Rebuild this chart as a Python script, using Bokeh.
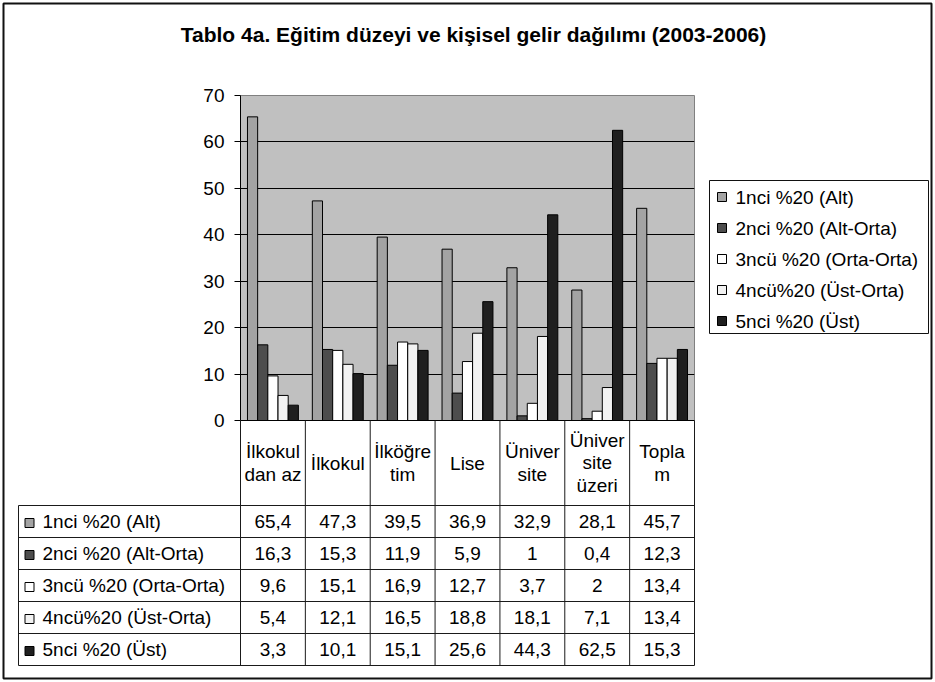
from bokeh.plotting import figure
from bokeh.models import Range1d, FixedTicker, ColumnDataSource
from bokeh.transform import dodge
from bokeh.core.properties import value
from bokeh.embed import file_html
from bokeh.resources import INLINE

# ---------------- data ----------------
title_text = "Tablo 4a. Eğitim düzeyi ve kişisel gelir dağılımı (2003-2006)"
categories = ["İlkokuldan az", "İlkokul", "İlköğretim", "Lise", "Üniversite", "Üniversite üzeri", "Toplam"]
header_labels = ["İlkokul\ndan az", "İlkokul", "İlköğre\ntim", "Lise", "Üniver\nsite", "Üniver\nsite\nüzeri", "Topla\nm"]
series_names = ["1nci %20 (Alt)", "2nci %20 (Alt-Orta)", "3ncü %20 (Orta-Orta)", "4ncü%20 (Üst-Orta)", "5nci %20 (Üst)"]
s1 = [65.4, 47.3, 39.5, 36.9, 32.9, 28.1, 45.7]
s2 = [16.3, 15.3, 11.9, 5.9, 1, 0.4, 12.3]
s3 = [9.6, 15.1, 16.9, 12.7, 3.7, 2, 13.4]
s4 = [5.4, 12.1, 16.5, 18.8, 18.1, 7.1, 13.4]
s5 = [3.3, 10.1, 15.1, 25.6, 44.3, 62.5, 15.3]
y_ticks = [0, 10, 20, 30, 40, 50, 60, 70]

series = [s1, s2, s3, s4, s5]
series_colors = ["#a3a3a3", "#4d4d4d", "#ffffff", "#f2f2f2", "#1f1f1f"]

# ---------------- layout (canvas px) ----------------
FONT = "Liberation Sans"
FS = "19px"
W, H = 935, 682
FL, FR, FT, FB = 240, 694, 95, 420
TL = 18            # table left
ROW0 = 505         # first data row top
RH = 32            # row height
n = len(categories)
cw = (FR - FL) / n

p = figure(width=W, height=H,
           x_range=Range1d(0, n),
           y_range=Range1d(0, 70),
           output_backend="svg", toolbar_location=None,
           min_border_left=FL, min_border_right=W - FR,
           min_border_top=FT, min_border_bottom=H - FB)
p.extra_x_ranges = {"px": Range1d(FL, FR)}
p.extra_y_ranges = {"px": Range1d(FB, FT)}

p.background_fill_color = "#c0c0c0"
p.border_fill_color = "white"
p.outline_line_color = "#808080"
p.outline_line_width = 1

p.xaxis.visible = False
p.xgrid.visible = False
p.ygrid.ticker = FixedTicker(ticks=y_ticks[1:-1])
p.ygrid.grid_line_color = "#000000"
p.ygrid.grid_line_width = 1

ya = p.yaxis[0]
ya.ticker = FixedTicker(ticks=y_ticks)
ya.axis_line_color = "black"
ya.major_tick_line_color = "black"
ya.major_tick_out = 6
ya.major_tick_in = 0
ya.minor_tick_line_color = None
ya.major_label_text_font = FONT
ya.major_label_text_font_size = FS
ya.major_label_text_color = "black"
ya.major_label_standoff = 10

# ---------------- bars ----------------
pos = [k + 0.5 for k in range(n)]   # category centres on the linear x scale
src = ColumnDataSource(dict(cat=categories, pos=pos, s1=s1, s2=s2, s3=s3, s4=s4, s5=s5))
bw = 0.157
for i, key in enumerate(["s1", "s2", "s3", "s4", "s5"]):
    p.vbar(x=dodge("pos", (i - 2) * bw), top=key, width=bw,
           source=src, fill_color=series_colors[i], line_color="black", line_width=1)

# ---------------- table, legend & decorations (overlay, canvas px coords) ----------------
kw = dict(x_range_name="px", y_range_name="px", level="overlay")
LC = "#1a1a1a"
txt = dict(text_font=value(FONT), text_font_size=value(FS), text_color="black", **kw)
nrows = len(series)

# outer frame
p.quad(left=[3], right=[931], top=[3], bottom=[678],
       fill_color=None, line_color="#111111", line_width=2, **kw)

# legend
LGL, LGR, LGT, LGB = 709, 928, 180, 333
p.quad(left=[LGL], right=[LGR], top=[LGT], bottom=[LGB], fill_color="white",
       line_color="#111111", line_width=1, **kw)
lcy = [196.5 + 31 * i for i in range(nrows)]
p.rect(x=[721.5] * nrows, y=lcy, width=9, height=9, fill_color=series_colors,
       line_color="black", line_width=1, **kw)
p.text(x=[735] * nrows, y=lcy, text=series_names, text_align="left", text_baseline="middle", **txt)

# table lines
hx0, hx1, hy = [], [], []
for i in range(nrows + 1):
    hx0.append(TL); hx1.append(FR); hy.append(ROW0 + i * RH)
p.segment(x0=hx0, y0=hy, x1=hx1, y1=hy, line_color=LC, line_width=1, **kw)
p.segment(x0=[FL], y0=[FB], x1=[FR], y1=[FB], line_color="black", line_width=1, **kw)
vx = [TL] + [FL + k * cw for k in range(n + 1)]
vy0 = [ROW0] + [FB] * (n + 1)
vy1 = [ROW0 + nrows * RH] * (n + 2)
p.segment(x0=vx, y0=vy0, x1=vx, y1=vy1, line_color=LC, line_width=1, **kw)

# title
p.text(x=[473], y=[34], text=[title_text], text_align="center", text_baseline="middle",
       text_font_style="bold", text_font=value(FONT), text_font_size=value("21px"),
       text_color="black", **kw)

# header labels
cx = [FL + (k + 0.5) * cw for k in range(n)]
p.text(x=cx, y=[(FB + ROW0) / 2] * n, text=header_labels, text_align="center",
       text_baseline="middle", text_line_height=1.05, **txt)

# row labels with key squares
rcy = [ROW0 + (i + 0.5) * RH for i in range(nrows)]
p.rect(x=[29] * nrows, y=[c + 1.5 for c in rcy], width=9, height=9, fill_color=series_colors,
       line_color="black", line_width=1, **kw)
p.text(x=[42] * nrows, y=rcy, text=series_names, text_align="left", text_baseline="middle", **txt)

# values
def fmt(v):
    return ("%g" % v).replace(".", ",")

vxs, vys, vts = [], [], []
for i, s in enumerate(series):
    for k, v in enumerate(s):
        vxs.append(cx[k]); vys.append(rcy[i]); vts.append(fmt(v))
p.text(x=vxs, y=vys, text=vts, text_align="center", text_baseline="middle", **txt)

open("out.html", "w").write(file_html(p, INLINE))
